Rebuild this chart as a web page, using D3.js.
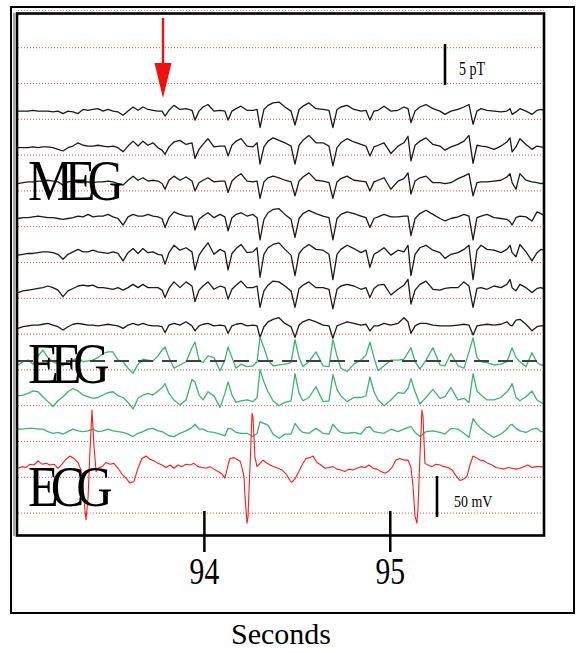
<!DOCTYPE html>
<html><head><meta charset="utf-8">
<script src="https://cdn.jsdelivr.net/npm/d3@7"></script>
<style>body{margin:0;background:#fff}svg{display:block}</style>
</head><body>
<script>
// ---------------- DATA ----------------
// sample times (s) shared by MEG and EEG channels
const megTimes = [93.000,93.027,93.054,93.081,93.108,93.134,93.161,93.188,93.215,93.242,93.269,93.296,93.323,93.350,93.377,93.403,93.430,93.457,93.484,93.511,93.538,93.565,93.592,93.619,93.646,93.672,93.699,93.726,93.753,
93.775,93.791,93.812,93.839,93.871,93.904,93.936,
93.952,93.974,93.995,94.022,94.054,94.087,94.113,
94.130,94.151,94.173,94.200,94.232,94.264,94.286,
94.302,94.323,94.345,94.372,94.404,94.436,94.469,
94.490,94.512,94.533,94.565,94.603,94.641,94.673,
94.694,94.716,94.737,94.770,94.807,94.845,94.872,
94.893,94.915,94.937,94.969,95.006,95.044,95.076,95.098,
95.114,95.136,95.162,95.195,95.232,95.270,95.297,95.329,95.367,95.399,95.426,
95.448,95.469,95.491,95.523,95.561,95.598,95.630,95.647,
95.658,95.679,95.700,95.733,95.765,95.792,95.813,95.835];

// MEG channels (pT, relative to each channel's dotted reference line)
const meg1 = [1.0,1.0,1.0,1.1,1.0,1.0,1.0,0.9,1.0,0.7,1.0,0.9,0.7,1.2,1.1,1.2,1.3,1.0,1.2,1.0,0.9,0.5,1.0,1.5,1.1,1.5,1.2,1.1,1.0,
1.0,0.4,1.1,1.7,1.2,1.3,1.1,
-0.1,1.0,1.5,1.8,1.0,1.1,1.0,
-0.1,1.0,1.3,1.6,1.1,1.1,1.2,
-1.0,1.2,1.7,2.0,2.1,1.5,1.0,
-0.7,1.2,1.6,2.0,1.3,1.2,1.1,
-1.0,1.2,1.5,1.7,1.2,1.0,1.1,
-0.1,1.0,1.1,1.6,1.0,1.1,1.5,1.3,
-0.4,1.0,1.5,1.8,1.3,1.0,0.6,1.0,1.2,1.5,1.8,
-0.6,1.0,1.3,1.1,1.0,0.9,1.0,1.3,
0.6,0.9,1.3,1.0,0.6,1.1,1.2,1.0];
const meg2 = [0.9,0.9,0.9,1.0,0.9,1.0,1.0,0.9,0.7,0.5,0.9,1.1,1.5,1.2,1.1,1.1,1.2,1.1,1.0,1.1,0.9,0.4,1.1,1.7,1.1,1.7,1.2,1.5,0.9,
0.6,0.1,1.0,1.6,1.8,1.3,1.5,
-0.4,0.7,1.3,2.0,1.0,1.1,1.1,
-0.1,1.2,1.7,2.0,1.1,1.0,1.5,
-1.1,1.0,1.7,2.1,1.8,1.5,1.1,
-1.1,1.2,1.8,2.4,1.5,1.5,1.1,
-1.3,0.9,1.5,2.0,1.6,1.3,1.1,
-0.1,1.0,1.2,1.5,0.2,1.1,1.5,2.3,
-0.7,1.2,1.7,2.1,1.3,1.1,0.6,1.0,1.3,1.7,2.4,
-1.0,1.2,1.1,1.0,0.7,1.1,1.6,2.1,
0.4,1.0,2.0,1.3,0.7,1.1,1.0,0.9];
const meg3 = [0.9,1.0,1.1,1.1,1.2,1.2,1.3,1.2,1.1,0.7,1.1,1.2,1.0,1.0,1.1,1.0,1.1,1.1,1.2,1.1,0.9,0.7,1.3,1.8,1.3,1.6,1.2,1.3,1.2,
0.9,0.2,1.3,1.8,1.3,1.7,1.2,
0.0,1.0,1.3,1.6,1.1,1.2,1.2,
-0.2,1.2,1.7,2.1,1.2,1.1,1.2,
-0.9,1.1,1.6,1.8,1.6,1.3,1.1,
-0.6,1.2,1.7,2.2,1.3,1.2,1.0,
-0.9,1.1,1.5,1.8,1.3,1.2,1.1,
0.0,1.1,1.3,1.6,0.2,1.2,1.5,2.2,
-0.4,1.2,1.6,1.8,1.0,1.0,0.9,1.0,1.5,1.8,2.1,
-0.6,1.0,1.1,1.1,1.2,1.3,1.7,2.1,
1.0,0.2,2.1,1.3,1.1,1.0,0.9,0.9];
const meg4 = [1.0,1.1,1.1,1.2,1.3,1.2,1.1,1.1,1.0,0.9,1.0,1.1,1.3,1.2,1.5,1.2,1.3,1.3,1.5,1.2,1.0,0.2,1.2,1.5,1.3,1.3,1.5,1.3,1.2,
1.0,-0.1,1.1,1.8,1.5,1.3,1.3,
-0.4,0.9,1.3,1.7,1.1,1.5,1.2,
-0.5,1.1,1.5,1.7,1.3,1.5,1.1,
-1.6,0.9,1.7,2.1,2.2,1.5,0.9,
-1.3,1.0,1.6,2.0,1.6,1.3,1.1,
-1.6,1.0,1.5,1.8,1.6,1.3,1.1,
-0.1,1.0,1.2,1.5,1.2,1.2,1.3,1.3,
-1.1,1.0,1.6,2.0,1.5,1.0,0.7,1.0,1.2,1.5,1.3,
-1.6,1.1,1.3,1.5,1.1,1.0,0.9,0.6,
0.2,1.1,1.3,1.2,0.7,1.8,1.6,1.3];
const meg5 = [0.9,1.0,1.1,1.1,1.2,1.3,1.3,1.2,1.0,0.4,1.0,1.3,1.6,1.3,1.3,1.5,1.3,1.2,1.1,1.3,1.1,0.2,1.2,1.7,1.1,1.7,1.2,1.3,1.0,
0.9,-0.2,1.2,2.1,1.5,1.8,1.3,
-0.9,0.9,1.6,2.4,1.0,1.6,1.3,
-0.9,1.1,1.7,2.2,1.2,1.3,1.8,
-1.8,1.0,1.8,2.2,2.4,1.6,0.9,
-1.6,1.1,1.7,2.2,1.6,1.5,1.0,
-2.1,1.0,1.6,2.1,1.7,1.2,1.5,
-0.6,1.0,1.3,1.8,0.9,1.5,1.3,2.1,
-1.6,1.0,1.8,2.1,1.5,1.2,0.5,1.0,1.2,1.6,2.1,
-2.1,1.5,2.1,1.6,1.5,1.2,1.6,2.1,
1.2,0.7,2.2,1.3,0.2,1.2,1.6,1.5];
const meg6 = [0.7,0.9,1.0,1.1,1.2,1.3,1.5,1.3,1.0,0.2,0.9,1.2,1.5,1.6,1.5,1.6,1.3,1.3,1.2,1.1,1.3,1.0,1.3,1.7,1.3,1.7,1.3,1.3,1.3,
1.0,0.1,1.2,2.0,1.3,2.0,1.5,
-0.4,1.0,1.5,2.0,1.1,1.5,1.3,
-0.1,1.1,1.6,2.1,1.3,1.3,1.5,
-1.1,0.9,1.6,2.1,2.0,1.5,0.9,
-1.1,1.2,1.6,2.0,1.3,1.3,1.1,
-1.3,1.1,1.5,1.7,1.5,1.1,1.3,
0.1,1.2,1.6,1.7,0.4,1.1,1.6,2.3,
-0.7,1.0,1.7,2.1,1.1,1.0,1.2,1.3,1.3,2.0,1.5,
-1.1,1.2,1.3,1.1,1.5,1.3,1.7,2.3,
1.3,0.9,1.7,1.3,0.7,1.2,1.3,1.1];
const meg7 = [0.7,0.9,1.0,1.1,1.1,1.2,1.3,1.1,0.9,0.5,0.9,1.2,1.3,1.2,1.1,1.1,1.0,1.1,1.2,1.1,1.0,0.7,1.1,1.3,1.1,1.3,1.1,1.0,1.0,
0.9,0.2,1.1,1.3,1.1,1.5,1.0,
0.4,1.0,1.2,1.3,1.0,1.1,1.0,
0.1,1.0,1.2,1.3,1.0,1.1,1.0,
-0.4,0.9,1.5,1.8,2.0,1.3,0.9,
-0.4,1.1,1.5,1.8,1.5,1.1,1.0,
-0.5,1.0,1.2,1.5,1.3,1.1,1.2,
0.4,1.0,1.0,1.3,1.1,1.3,2.0,1.5,
0.1,1.0,1.3,1.3,1.1,1.0,1.0,1.0,1.1,1.2,1.1,
-0.1,1.0,1.1,1.2,1.1,1.2,1.5,1.1,
1.0,1.7,1.8,1.2,0.4,0.9,1.0,1.0];

// EEG channels (mV, same sample times)
const eeg1 = [6,10,12,7,17,24,15,10,7,5,10,12,15,10,11,12,15,20,22,22,12,10,2,-4,7,13,12,11,17,
24,28,15,2,6,10,27,
34,12,9,17,15,-1,12,
28,15,2,7,4,5,10,
40,27,12,5,6,7,9,
37,15,4,10,22,5,4,
37,17,2,-2,7,12,18,
34,15,-1,5,12,12,13,21,
27,10,1,12,27,6,5,20,5,2,22,
39,15,10,9,6,7,10,20,
27,15,10,4,21,9,6,6];
const eeg2 = [12,13,15,18,17,11,5,-1,6,11,17,21,18,13,11,9,10,13,16,17,12,10,4,-4,9,13,15,13,18,
22,27,15,7,1,7,32,
29,13,7,17,12,-2,15,
29,13,4,6,7,5,10,
44,29,17,6,0,4,6,
39,15,6,10,23,5,6,
38,20,12,5,10,10,12,
35,17,7,0,7,16,15,21,
33,17,2,10,20,9,11,22,7,9,4,
39,18,13,7,7,10,17,22,
27,10,6,11,18,7,4,2];
const eeg3 = [15,15,16,16,15,15,12,10,11,9,12,15,13,12,13,15,12,13,15,13,12,11,9,6,10,12,15,16,13,
12,10,7,6,10,13,17,
21,15,15,12,11,9,7,
16,15,11,10,10,6,10,
24,22,20,9,4,9,9,
22,15,11,10,16,10,9,
21,15,11,10,11,9,17,
18,12,11,10,15,12,15,17,
18,11,6,12,13,11,9,16,15,10,5,
28,21,16,10,5,9,15,20,
21,16,13,11,15,16,12,12];

// ECG (own sample times, s) and values (mV)
const ecgTimes = [93.000,93.022,93.043,93.065,93.086,93.108,93.129,93.151,93.172,93.194,93.215,93.237,93.258,93.280,93.301,93.323,
93.339,93.350,93.360,93.366,93.377,93.387,93.398,93.409,93.420,
93.436,93.452,93.473,93.495,93.516,93.538,93.559,93.581,93.602,93.624,93.645,93.667,93.689,93.710,93.732,93.753,93.775,93.796,93.818,93.839,93.861,93.882,93.904,93.925,93.947,93.968,93.990,94.011,94.033,94.054,94.076,94.097,
94.113,94.130,94.140,94.162,94.183,94.194,94.205,94.216,94.221,94.232,94.237,94.248,94.259,94.264,94.275,94.286,
94.302,94.318,94.334,94.356,94.377,94.399,94.420,94.442,94.463,94.474,94.490,94.506,94.528,94.549,94.571,94.587,94.608,94.630,94.651,94.673,94.694,94.716,94.737,94.759,94.780,94.802,94.824,94.845,94.867,94.888,94.910,94.931,94.953,94.974,94.990,95.012,95.033,95.055,95.076,95.098,
95.114,95.125,95.136,95.146,95.152,95.162,95.173,95.179,95.189,
95.205,95.227,95.248,95.270,95.292,95.313,95.335,95.356,95.378,95.399,95.415,95.431,95.448,95.464,95.485,95.507,95.528,95.550,95.571,95.593,95.614,95.636,95.658,95.679,95.700,95.722,95.743,95.765,95.786,95.808,95.835];
const ecgValues = [11,13,12,16,15,20,16,17,15,16,11,16,22,26,23,18,
9,-11,-40,-52,-24,31,82,37,7,
12,13,18,16,17,11,4,-1,-7,-5,11,23,26,22,20,17,15,12,15,11,15,13,16,15,17,13,12,11,13,10,7,4,
-1,15,23,24,21,20,12,0,-23,-56,-49,12,78,73,24,13,
17,21,18,15,13,11,9,4,-4,-6,-2,5,15,23,24,26,18,15,11,12,13,10,9,7,10,9,11,13,12,15,11,10,7,5,7,12,21,23,21,21,
12,-11,-48,-56,-37,24,82,73,17,
15,13,16,15,13,12,9,2,-4,-2,1,15,26,24,21,20,17,15,12,11,10,12,11,10,11,13,15,12,13,13,12];

const tickSeconds = [94, 95];
const channelLabels = ["MEG", "EEG", "ECG"];
const megScaleLabel = "5 pT", megScaleValue = 5;
const elecScaleLabel = "50 mV", elecScaleValue = 50;
const onsetTime = 93.78;   // red arrow
const axisTitle = "Seconds";

// ---------------- DRAWING ----------------
const W = 578, H = 653;
const serif = "'Liberation Serif','Times New Roman',serif";
const svg = d3.select("body").append("svg").attr("width", W).attr("height", H);

const x = d3.scaleLinear().domain([93, 95.835]).range([18, 545]);
const row = d3.scaleLinear().domain([0, 13]).range([47.7, 513.1]);
const megAmp = d3.scaleLinear().domain([0, 5]).range([0, 41]);     // pT -> px
const elecAmp = d3.scaleLinear().domain([0, 50]).range([0, 41]);   // mV -> px

// outer frame
svg.append("rect").attr("x", 11).attr("y", 7).attr("width", 563).attr("height", 606)
  .attr("fill", "none").attr("stroke", "#000").attr("stroke-width", 2);

// dotted reference lines
const dotG = svg.append("g").attr("stroke", "#c25858").attr("stroke-width", 1)
  .attr("stroke-dasharray", "1,2");
dotG.selectAll("line").data(d3.range(14)).join("line")
  .attr("x1", 18).attr("x2", 544)
  .attr("y1", d => row(d)).attr("y2", d => row(d));
dotG.append("line").attr("x1", 18).attr("x2", 544).attr("y1", 10.5).attr("y2", 10.5).attr("opacity", 0.7);

function trace(times, values, base, amp, color, width) {
  const pts = d3.zip(times, values);
  svg.append("path")
    .attr("d", d3.line().x(d => x(d[0])).y(d => base - amp(d[1]))(pts))
    .attr("fill", "none").attr("stroke", color).attr("stroke-width", width)
    .attr("stroke-linejoin", "round");
}

const megChannels = [meg1, meg2, meg3, meg4, meg5, meg6, meg7];
megChannels.forEach((v, i) => trace(megTimes, v, row(i + 2), megAmp, "#1a1a1a", 1.3));
const eegChannels = [eeg1, eeg2, eeg3];
eegChannels.forEach((v, i) => trace(megTimes, v, row(i + 9), elecAmp, "#3cb371", 1.3));
trace(ecgTimes, ecgValues, row(12), elecAmp, "#ff1a1a", 1.1);

// dashed reference on first EEG channel
svg.append("line").attr("x1", 18).attr("x2", 544).attr("y1", 361).attr("y2", 361)
  .attr("stroke", "#404040").attr("stroke-width", 2).attr("stroke-dasharray", "15,9");

// inner frame
svg.append("line").attr("x1", 14).attr("x2", 14).attr("y1", 13).attr("y2", 536)
  .attr("stroke", "#888").attr("stroke-width", 1.5);
svg.append("rect").attr("x", 17).attr("y", 13.5).attr("width", 527).attr("height", 522)
  .attr("fill", "none").attr("stroke", "#000").attr("stroke-width", 2.6);

// axis (ticks crossing bottom border)
const axis = svg.append("g").attr("transform", "translate(0,511)")
  .call(d3.axisBottom(x).tickValues(tickSeconds).tickFormat(d3.format("d")).tickSize(41).tickPadding(6));
axis.select(".domain").remove();
axis.selectAll(".tick line").attr("stroke", "#000").attr("stroke-width", 2.5);
axis.selectAll(".tick text")
  .attr("font-family", serif).attr("font-size", 37).attr("fill", "#000")
  .attr("transform", "scale(0.8,1)");

// axis title
svg.append("text").attr("x", 281).attr("y", 644).attr("text-anchor", "middle")
  .attr("font-family", serif).attr("font-size", 30).text(axisTitle);

// channel labels
const labelY = [200, 383, 506];
channelLabels.forEach((t, i) => {
  svg.append("text").attr("transform", `translate(28,${labelY[i]}) scale(0.9,1)`)
    .attr("font-family", serif).attr("font-size", 56).attr("letter-spacing", -9)
    .attr("fill", "#000").text(t);
});

// scale bars
svg.append("line").attr("x1", 445).attr("x2", 445).attr("y1", 85).attr("y2", 85 - megAmp(megScaleValue))
  .attr("stroke", "#000").attr("stroke-width", 2.6);
svg.append("text").attr("transform", "translate(459,74.5) scale(0.78,1)")
  .attr("font-family", serif).attr("font-size", 18).text(megScaleLabel);
svg.append("line").attr("x1", 437).attr("x2", 437).attr("y1", 476).attr("y2", 476 + elecAmp(elecScaleValue))
  .attr("stroke", "#000").attr("stroke-width", 2.6);
svg.append("text").attr("transform", "translate(454,506.5) scale(0.82,1)")
  .attr("font-family", serif).attr("font-size", 17).text(elecScaleLabel);

// red arrow marking onset
const ax = x(onsetTime);
svg.append("line").attr("x1", ax).attr("x2", ax).attr("y1", 18).attr("y2", 66)
  .attr("stroke", "#f01010").attr("stroke-width", 2.4);
svg.append("path").attr("d", `M${ax - 8.5},63 L${ax + 8.5},63 L${ax},98 Z`).attr("fill", "#f01010");
</script>
</body></html>
